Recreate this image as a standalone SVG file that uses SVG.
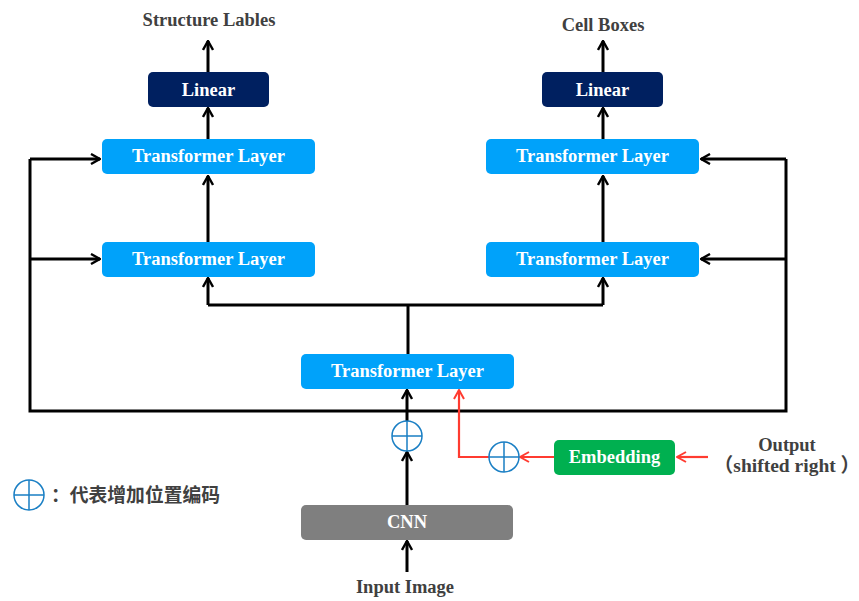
<svg xmlns="http://www.w3.org/2000/svg" width="859" height="601" viewBox="0 0 859 601">
<defs>
<marker id="ah" viewBox="0 0 12 12" refX="11" refY="6" markerWidth="12" markerHeight="12" markerUnits="userSpaceOnUse" orient="auto">
<path d="M2,1 L11,6 L2,11" fill="none" stroke="#000" stroke-width="2.4"/>
</marker>
<marker id="ahr" viewBox="0 0 12 12" refX="11" refY="6" markerWidth="12" markerHeight="12" markerUnits="userSpaceOnUse" orient="auto">
<path d="M2,1 L11,6 L2,11" fill="none" stroke="#ff3b30" stroke-width="2"/>
</marker>
</defs>
<style>
.box text{font-family:"Liberation Serif",serif;font-weight:bold;font-size:18.5px;fill:#fff;text-anchor:middle}
.tl{fill:#00a2fa}
.lin{fill:#002060}
.lbl{font-family:"Liberation Serif","Noto Sans CJK SC",serif;font-weight:bold;font-size:18.5px;fill:#404040;text-anchor:middle}
.k{fill:none;stroke:#000;stroke-width:3}
.r{fill:none;stroke:#ff3b30;stroke-width:2.2}
.plus circle{fill:#fff;stroke:#1a7fc4;stroke-width:1.5}
.plus path{stroke:#1a7fc4;stroke-width:1.5}
</style>
<rect width="859" height="601" fill="#fff"/>
<g id="connectors">
<path class="k" d="M30,159 L30,411 L786,411 L786,159"/>
<path class="k" d="M30,159 L100,159" marker-end="url(#ah)"/>
<path class="k" d="M30,259 L100,259" marker-end="url(#ah)"/>
<path class="k" d="M786,159 L701,159" marker-end="url(#ah)"/>
<path class="k" d="M786,259 L701,259" marker-end="url(#ah)"/>
<path class="k" d="M408,354 L408,305"/>
<path class="k" d="M208,305 L603,305"/>
<path class="k" d="M208,305 L208,278" marker-end="url(#ah)"/>
<path class="k" d="M603,305 L603,278" marker-end="url(#ah)"/>
<path class="k" d="M208,242 L208,176" marker-end="url(#ah)"/>
<path class="k" d="M603,242 L603,176" marker-end="url(#ah)"/>
<path class="k" d="M208,139 L208,108" marker-end="url(#ah)"/>
<path class="k" d="M603,139 L603,108" marker-end="url(#ah)"/>
<path class="k" d="M208,72 L208,41" marker-end="url(#ah)"/>
<path class="k" d="M603,72 L603,41" marker-end="url(#ah)"/>
<path class="k" d="M407,572 L407,541" marker-end="url(#ah)"/>
<path class="k" d="M407,505 L407,452" marker-end="url(#ah)"/>
<path class="k" d="M407,421 L407,390" marker-end="url(#ah)"/>
<path class="r" d="M708,457 L677,457" marker-end="url(#ahr)"/>
<path class="r" d="M554,457 L520,457" marker-end="url(#ahr)"/>
<path class="r" d="M489,457 L459,457 L459,390" marker-end="url(#ahr)"/>
</g>
<g id="linear-left" class="box"><rect class="lin" x="148" y="72" width="121" height="35" rx="5"/><text x="208.5" y="96">Linear</text></g>
<g id="linear-right" class="box"><rect class="lin" x="542" y="72" width="121" height="35" rx="5"/><text x="602.5" y="96">Linear</text></g>
<g id="tl-left-top" class="box"><rect class="tl" x="102" y="139" width="213" height="35" rx="5"/><text x="208.5" y="162">Transformer Layer</text></g>
<g id="tl-left-bottom" class="box"><rect class="tl" x="102" y="242" width="213" height="35" rx="5"/><text x="208.5" y="265">Transformer Layer</text></g>
<g id="tl-right-top" class="box"><rect class="tl" x="486" y="139" width="213" height="35" rx="5"/><text x="592.5" y="162">Transformer Layer</text></g>
<g id="tl-right-bottom" class="box"><rect class="tl" x="486" y="242" width="213" height="35" rx="5"/><text x="592.5" y="265">Transformer Layer</text></g>
<g id="tl-middle" class="box"><rect class="tl" x="301" y="354" width="213" height="35" rx="5"/><text x="407.5" y="377">Transformer Layer</text></g>
<g id="embedding" class="box"><rect x="554" y="440" width="121" height="35" rx="5" fill="#00b050"/><text x="614.5" y="463">Embedding</text></g>
<g id="cnn" class="box"><rect x="301" y="505" width="212" height="35" rx="5" fill="#7f7f7f"/><text x="407" y="528">CNN</text></g>
<g id="plus-main" class="plus"><circle cx="407" cy="436" r="15"/><path d="M392,436 H422 M407,421 V451"/></g>
<g id="plus-emb" class="plus"><circle cx="504" cy="457" r="15"/><path d="M489,457 H519 M504,442 V472"/></g>
<g id="legend-plus" class="plus"><circle cx="29" cy="495" r="15"/><path d="M14,495 H44 M29,480 V510"/></g>
<g id="labels">
<text class="lbl" x="209" y="26">Structure Lables</text>
<text class="lbl" x="603" y="31">Cell Boxes</text>
<text class="lbl" x="405" y="593">Input Image</text>
<text class="lbl" x="787" y="451">Output</text>
<text class="lbl" x="787" y="472" style="font-size:19.5px">（shifted right ）</text>
<text x="51" y="502" style="font-family:'Noto Sans CJK SC','Noto Sans',sans-serif;font-weight:bold;font-size:18.8px;fill:#404040">：代表增加位置编码</text>
</g>
</svg>
